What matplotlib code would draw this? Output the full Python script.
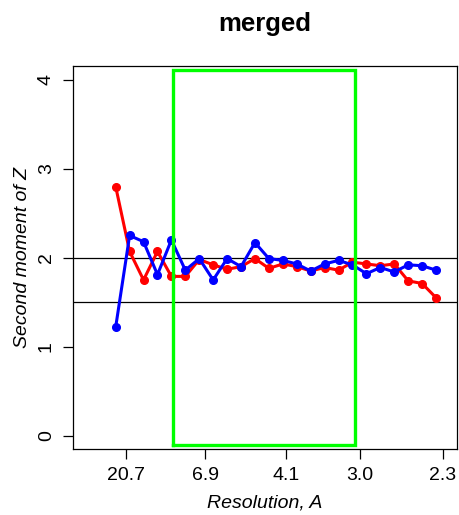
import numpy as np
import matplotlib
matplotlib.use("Agg")
import matplotlib.pyplot as plt

plt.rcParams['font.family'] = ['Liberation Sans', 'DejaVu Sans']

# bin centres in 1/resolution (1/A)
inv_res = [0.0357, 0.0527, 0.0697, 0.0867, 0.1037, 0.1207, 0.1377, 0.1547,
           0.1717, 0.1887, 0.2057, 0.2227, 0.2397, 0.2567, 0.2737, 0.2907,
           0.3077, 0.3247, 0.3417, 0.3587, 0.3757, 0.3927, 0.4097, 0.4267]

# second moment of Z, two series
red_vals = [2.80, 2.07, 1.75, 2.07, 1.79, 1.79, 1.98, 1.92, 1.87, 1.90, 1.99, 1.88,
            1.93, 1.90, 1.85, 1.89, 1.86, 1.95, 1.93, 1.91, 1.93, 1.74, 1.71, 1.55]
blue_vals = [1.22, 2.25, 2.18, 1.81, 2.20, 1.86, 1.99, 1.75, 1.99, 1.90, 2.17, 1.99,
             1.97, 1.93, 1.85, 1.93, 1.97, 1.92, 1.82, 1.89, 1.84, 1.92, 1.91, 1.86]

tick_res = [20.7, 6.9, 4.1, 3.0, 2.3]
ref_lines = [2.0, 1.5]

# resolution window (A) and y extent of the green box
box_res = [9.43, 3.05]
box_y = [-0.11, 4.11]

fig = plt.figure(figsize=(4.6, 5.15), dpi=100)
ax = fig.add_axes([0.1587, 0.1276, 0.8341, 0.7448])

for h in ref_lines:
    ax.axhline(h, color='black', lw=0.9, zorder=1)

ax.plot(inv_res, red_vals, color='#FF0000', lw=2.2, marker='o', ms=5.5, zorder=2)
ax.plot(inv_res, blue_vals, color='#0000FF', lw=2.2, marker='o', ms=5.5, zorder=3)

bx = [1.0 / box_res[0], 1.0 / box_res[1]]
ax.plot([bx[0], bx[1], bx[1], bx[0], bx[0]],
        [box_y[0], box_y[0], box_y[1], box_y[1], box_y[0]],
        color='#00FF00', lw=2.4, zorder=4, solid_joinstyle='miter')

ax.set_xlim(-0.0164, 0.4519)
ax.set_ylim(-0.155, 4.16)

ax.set_xticks([1.0 / r for r in tick_res])
ax.set_xticklabels(['%.1f' % r for r in tick_res])
ax.set_yticks([0, 1, 2, 3, 4])
ax.set_yticklabels(['0', '1', '2', '3', '4'], rotation=90, va='center')

ax.tick_params(axis='both', length=7, width=0.9, labelsize=14, pad=6)
for s in ax.spines.values():
    s.set_linewidth(0.9)

ax.set_xlabel('Resolution, A', fontsize=14, style='italic', labelpad=7)
ax.set_ylabel('Second moment of Z', fontsize=14, style='italic', labelpad=5)
ax.set_title('merged', fontsize=18.5, fontweight='bold', pad=25)

fig.savefig('out.png', dpi=100)
